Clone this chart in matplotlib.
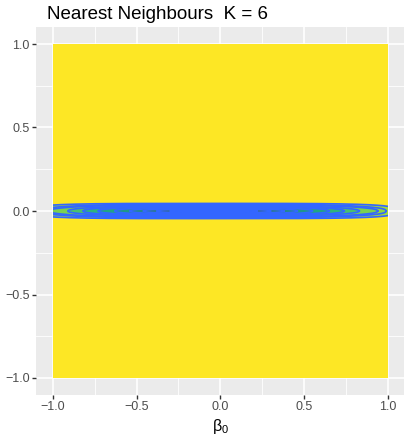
import numpy as np
import matplotlib
matplotlib.use("Agg")
import matplotlib.pyplot as plt
from matplotlib.patches import Rectangle

# ---- data ----
beta0_limits = [-1.0, 1.0]
beta1_limits = [-1.0, 1.0]
surface_color = "#FDE725"          # high loss everywhere except the valley
valley_center = [-0.04, 0.0]       # centre of the low-loss valley (beta0, beta1)
# nested contour rings: half-length along beta0, half-height along beta1, fill colour
ring_halflength = [1.08, 1.03, 0.98, 0.87, 0.78, 0.69, 0.59, 0.50, 0.42, 0.34, 0.26]
ring_halfheight = [0.0455, 0.0420, 0.0383, 0.0347, 0.0311, 0.0275,
                   0.0240, 0.0204, 0.0168, 0.0132, 0.0096]
ring_fill = ["#A0DA39", "#8FD744", "#7AD151", "#4AC16D", "#2FB47C", "#21A585",
             "#1F968B", "#23888E", "#2A788E", "#31688E", "#3366FF"]
ring_shape = [4.0, 2.6, 2.4, 2.2, 2.2, 2.2, 2.2, 2.2, 2.2, 2.2, 2.2]
contour_color = "#3366FF"
xticks = [-1.0, -0.5, 0.0, 0.5, 1.0]
yticks = [-1.0, -0.5, 0.0, 0.5, 1.0]
tick_labels = ["\u22121.0", "\u22120.5", "0.0", "0.5", "1.0"]
title = "Nearest Neighbours  K = 6"
xlabel = r"$\beta_0$"

plt.rcParams['font.family'] = ['Liberation Sans', 'DejaVu Sans']
plt.rcParams['mathtext.fontset'] = 'custom'
plt.rcParams['mathtext.rm'] = 'Liberation Sans'
plt.rcParams['mathtext.it'] = 'Liberation Sans'

W, H = 406, 436
fig = plt.figure(figsize=(W / 100, H / 100), dpi=100)
ax = fig.add_axes([36 / W, 1 - 394.7 / H, 368.5 / W, 367.4 / H])
ax.set_facecolor("#EBEBEB")
for s in ax.spines.values():
    s.set_visible(False)

ax.set_xlim(-1.1, 1.1)
ax.set_ylim(-1.1, 1.1)
ax.set_xticks(xticks)
ax.set_yticks(yticks)
ax.set_xticklabels(tick_labels)
ax.set_yticklabels(tick_labels)
ax.set_xticks([-0.75, -0.25, 0.25, 0.75], minor=True)
ax.set_yticks([-0.75, -0.25, 0.25, 0.75], minor=True)
ax.grid(which="major", color="white", linewidth=1.2)
ax.grid(which="minor", color="white", linewidth=0.6)
ax.set_axisbelow(True)
ax.tick_params(which="major", length=2.9, width=1.0, color="#333333",
               labelsize=9, labelcolor="#4D4D4D", pad=1.6)
ax.tick_params(which="minor", length=0)

# raster surface
rect = Rectangle((beta0_limits[0], beta1_limits[0]),
                 beta0_limits[1] - beta0_limits[0],
                 beta1_limits[1] - beta1_limits[0],
                 facecolor=surface_color, edgecolor="none", zorder=2)
ax.add_patch(rect)

# contour rings of the valley
t = np.linspace(0, 2 * np.pi, 721)
for a, h, col, p in zip(ring_halflength, ring_halfheight, ring_fill, ring_shape):
    c, s = np.cos(t), np.sin(t)
    xs = valley_center[0] + a * np.sign(c) * np.abs(c) ** (2 / p)
    ys = valley_center[1] + h * np.sign(s) * np.abs(s) ** (2 / p)
    poly = ax.fill(xs, ys, facecolor=col, edgecolor="none", zorder=3)[0]
    poly.set_clip_path(rect)
    ln = ax.plot(xs, ys, color=contour_color, linewidth=1.2, zorder=4)[0]
    ln.set_clip_path(rect)

fig.text(47 / W, 1 - 19 / H, title, fontsize=13.5, color="black",
         ha="left", va="baseline")
ax.set_xlabel(xlabel, fontsize=11.5, labelpad=3)

fig.savefig("out.png", dpi=100)
